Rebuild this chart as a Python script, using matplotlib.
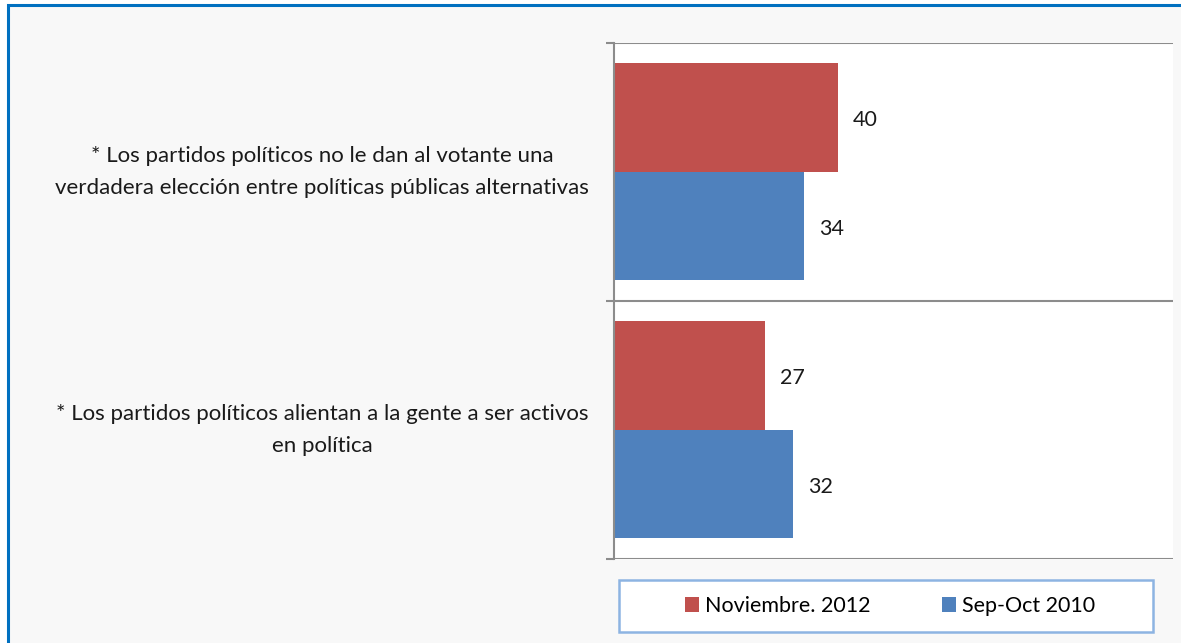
import matplotlib.pyplot as plt
from matplotlib.patches import Rectangle
from matplotlib.transforms import blended_transform_factory

plt.rcParams['font.family'] = ['Lato', 'DejaVu Sans']

categories = ['* Los partidos políticos no le dan al votante una\nverdadera elección entre políticas públicas alternativas',
              '* Los partidos políticos alientan a la gente a ser activos\nen política']
series_names = ['Noviembre. 2012', 'Sep-Oct 2010']
nov_2012 = [40, 27]
sep_oct_2010 = [34, 32]

red = '#C0504D'
blue = '#4F81BD'
grid_grey = '#8C8C8C'

W, H = 1181, 643
fig = plt.figure(figsize=(W / 100, H / 100), dpi=100)
fig.patch.set_facecolor('white')

# outer frame (cut off at right and bottom like the original)
fig.patches.append(Rectangle((8 / W, -0.1), 1.2, 1 - 5 / H + 0.1, transform=fig.transFigure,
                             facecolor='#F8F8F8', edgecolor='#0070C0', lw=2.2, zorder=-2))

ax = fig.add_axes([614 / W, 1 - 559 / H, (1173 - 614) / W, (559 - 42.5) / H])
ax.set_facecolor('white')

h = 0.42
ypos = list(range(len(categories)))
b1 = ax.barh([y - h / 2 for y in ypos], nov_2012, height=h, color=red, label=series_names[0], zorder=2)
b2 = ax.barh([y + h / 2 for y in ypos], sep_oct_2010, height=h, color=blue, label=series_names[1], zorder=2)

for bars in (b1, b2):
    for bar in bars:
        ax.annotate(f'{bar.get_width():.0f}', (bar.get_width(), bar.get_y() + bar.get_height() / 2),
                    xytext=(11, -2), textcoords='offset points', ha='left', va='center',
                    fontsize=15.5, color='#1a1a1a')

ax.set_xlim(0, 100)
ax.set_ylim(1.5, -0.5)
ax.set_xticks([])
ax.set_yticks([-0.5, 0.5, 1.5])
ax.set_yticklabels([])
ax.tick_params(axis='y', length=6, width=1.5, color=grid_grey)
ax.yaxis.grid(True, color=grid_grey, lw=1.5, zorder=1)
for s in ['top', 'right', 'bottom']:
    ax.spines[s].set_visible(False)
ax.spines['left'].set_color(grid_grey)
ax.spines['left'].set_linewidth(1.5)

trans = blended_transform_factory(fig.transFigure, ax.transData)
for y, lab in zip(ypos, categories):
    ax.text(322 / W, y, lab, transform=trans, ha='center', va='center', multialignment='center',
            fontsize=16, color='#1a1a1a', linespacing=1.75)

# legend box
fig.patches.append(Rectangle((619 / W, 1 - 632 / H), (1153 - 619) / W, (632 - 580) / H,
                             transform=fig.transFigure, facecolor='white', edgecolor='#8DB4E2',
                             lw=1.8, zorder=-1))
fig.legend(handles=[b1, b2], labels=series_names, loc='center',
           bbox_to_anchor=(890 / W, 1 - 606 / H), ncol=2, frameon=False, fontsize=15.5,
           handlelength=0.65, handleheight=0.65, handletextpad=0.3, columnspacing=3.3)

plt.savefig('out.png', dpi=100)
